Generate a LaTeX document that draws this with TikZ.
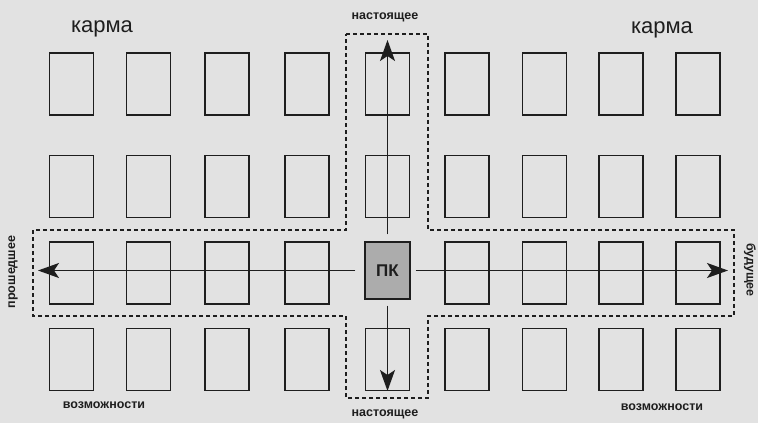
\documentclass[tikz,border=0pt]{standalone}
\usepackage{fontspec}
\setmainfont{Liberation Sans}
\usetikzlibrary{arrows.meta,positioning}
\definecolor{papergray}{RGB}{226,226,226}
\definecolor{inkgray}{RGB}{30,30,30}
\definecolor{pkgray}{RGB}{172,172,172}

\begin{document}
\begin{tikzpicture}[x=1pt, y=1pt,
    cell/.style={draw=inkgray, line width=1.3pt, minimum width=44pt, minimum height=62pt, inner sep=0pt},
    zone/.style={draw=inkgray, line width=1.2pt, dash pattern=on 4pt off 3pt},
    ray/.style={draw=inkgray, line width=1.4pt, -{Stealth[length=21pt,width=15pt,inset=5pt]}},
    lbl/.style={font=\bfseries\fontsize{12.5}{14}\selectfont, text=inkgray}]

          % Background
          \fill[papergray] (0,0) rectangle (758,423);
          \useasboundingbox (0,0) rectangle (758,423);

          % Cards
          \foreach \col/\cx in {1/71.5,2/148.5,3/227,4/307,5/387.5,6/467,7/544.5,8/621,9/698} {
            \foreach \row/\cy in {1/339,2/236.5,4/63.5}
              \node[cell] (c\row\col) at (\cx,\cy) {};
          }
          \foreach \col/\cx in {1/71.5,2/148.5,3/227,4/307,6/467,7/544.5,8/621,9/698}
            \node[cell] (c3\col) at (\cx,150) {};

          % Centre card
          \node[cell, fill=pkgray, minimum width=45pt, minimum height=57pt, text=inkgray,
                font=\bfseries\fontsize{17}{17}\selectfont] (pk) at (387.5,152.5) {ПК};

          % Dashed cross
          \draw[zone] (346,389) -- (428,389) -- (428,193) -- (734,193) -- (734,107)
                -- (428,107) -- (428,25) -- (346,25) -- (346,107) -- (33,107)
                -- (33,193) -- (346,193) -- cycle;

          % Arrows
          \coordinate (past) at (38,152.5);
          \coordinate (future) at (728,152.5);
          \coordinate (nowtop) at (387.5,383);
          \coordinate (nowbot) at (387.5,32);
          \draw[ray, shorten <=9pt] (pk.west) -- (past);
          \draw[ray, shorten <=5pt] (pk.east) -- (future);
          \draw[ray, shorten <=7pt] (pk.north) -- (nowtop);
          \draw[ray, shorten <=6pt] (pk.south) -- (nowbot);

          % Labels
          \node[font=\fontsize{22}{22}\selectfont, text=inkgray] (karmaleft) at (102,394) {карма};
          \node[font=\fontsize{22}{22}\selectfont, text=inkgray] (karmaright) at (662,393) {карма};
          \node[lbl] (nowlabtop) at (385,406) {настоящее};
          \node[lbl] (nowlabbot) at (385,9) {настоящее};
          \node[lbl] (optleft) at (104,18) {возможности};
          \node[lbl] (optright) at (662,16) {возможности};
          \node[lbl, rotate=90] (pastlab) at (13,151) {прошедшее};
          \node[lbl, rotate=-90] (futurelab) at (750,153) {будущее};
        \end{tikzpicture}
\end{document}
